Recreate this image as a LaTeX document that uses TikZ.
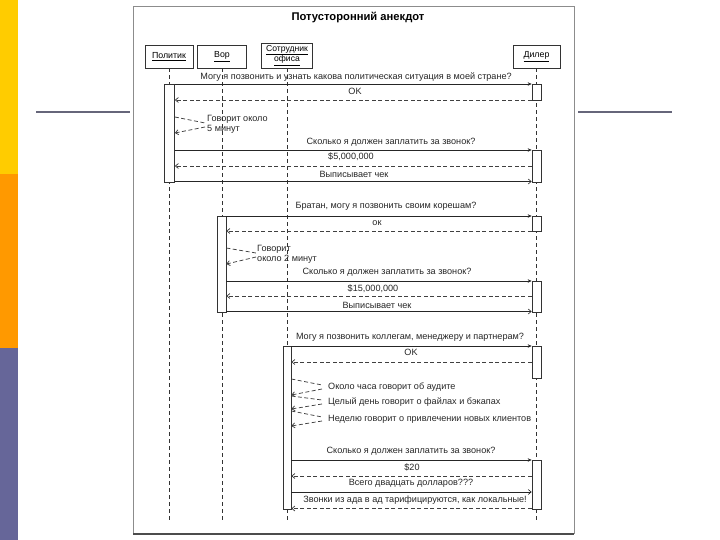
\documentclass[tikz,border=0pt]{standalone}
\usepackage{fontspec}
\setmainfont{Liberation Sans}
\usetikzlibrary{arrows.meta}
\definecolor{barY}{HTML}{FFCC00}
\definecolor{barO}{HTML}{FF9900}
\definecolor{barP}{HTML}{666699}
\definecolor{rule}{HTML}{66667A}
\begin{document}
\begin{tikzpicture}[x=1pt,y=-1pt,
  actor/.style={draw=black!80, fill=white, inner sep=1pt, align=center, font=\fontsize{8.8}{10}\selectfont},
  act/.style={draw=black!80, fill=white, minimum width=9, inner sep=0pt, line width=0.7pt},
  life/.style={draw=black!80, dash pattern=on 4pt off 3pt, line width=0.8pt},
  call/.style={draw=black!85, line width=0.6pt, -{Stealth[length=4pt,width=3.5pt]}},
  callo/.style={draw=black!85, line width=0.6pt, -{Straight Barb[length=3pt,width=5pt]}},
  ret/.style={draw=black!75, dash pattern=on 4pt off 2.5pt, line width=0.75pt, -{Straight Barb[length=3pt,width=5pt]}},
  selfout/.style={draw=black!75, dash pattern=on 4pt off 2.5pt, line width=0.75pt},
  lbl/.style={font=\fontsize{9.1}{10}\selectfont, inner sep=0pt, text=black!85},
]
\useasboundingbox (0,0) rectangle (720,540);
% slide decoration
\fill[barY] (0,0) rectangle (18,174);
\fill[barO] (0,174) rectangle (18,348);
\fill[barP] (0,348) rectangle (18,540);
\draw[rule, line width=1.5pt] (36,112) -- (130,112);
\draw[rule, line width=1.5pt] (578,112) -- (672,112);
% picture frame
\draw[black!45, line width=0.8pt] (133,534) -- (133,6) -- (574,6) -- (574,534);
\draw[black!70, line width=1.2pt] (133,534) -- (574,534);
% title
\node[font=\bfseries\fontsize{11.2}{13}\selectfont] (title) at (358,17) {Потусторонний анекдот};
% actors
\node[actor, minimum width=48, minimum height=23] (pol) at (169,56.5) {\underline{Политик}};
\node[actor, minimum width=49, minimum height=23] (vor) at (222,56.5) {\underline{Вор}};
\node[actor, minimum width=51, minimum height=25, inner sep=0pt, font=\fontsize{8.6}{9}\selectfont] (sot) at (287,55.5) {\underline{Сотрудник}\\[-0.5pt]\underline{офиса}};
\node[actor, minimum width=47, minimum height=23] (dil) at (536.5,56.5) {\underline{Дилер}};
% lifelines
\coordinate (polEnd) at (169,522);
\coordinate (vorEnd) at (222,522);
\coordinate (sotEnd) at (287,522);
\coordinate (dilEnd) at (536.5,522);
\draw[life] (pol.south) -- (polEnd);
\draw[life] (vor.south) -- (vorEnd);
\draw[life] (sot.south) -- (sotEnd);
\draw[life] (dil.south) -- (dilEnd);
% activations
\node[act, minimum height=98, anchor=north, minimum width=10] (aP) at (169.5,84) {};
\node[act, minimum height=16, anchor=north] (aD1) at (536.5,84) {};
\node[act, minimum height=32, anchor=north] (aD2) at (536.5,150) {};
\node[act, minimum height=96, anchor=north] (aV) at (221.5,216) {};
\node[act, minimum height=15, anchor=north] (aD3) at (536.5,216) {};
\node[act, minimum height=31, anchor=north] (aD4) at (536.5,281) {};
\node[act, minimum height=163, anchor=north, minimum width=8] (aS) at (287,346) {};
\node[act, minimum height=32, anchor=north] (aD5) at (536.5,346) {};
\node[act, minimum height=49, anchor=north] (aD6) at (536.5,460) {};
% ---- section 1
\draw[call] (aP.east |- 0,84) -- (aD1.west |- 0,84);
\node[lbl] (m1) at (356,77) {Могу я позвонить и узнать какова политическая ситуация в моей стране?};
\draw[ret] (aD1.west |- 0,100) -- (aP.east |- 0,100);
\node[lbl] (m2) at (355,91) {OK};
\coordinate (s1a) at (205,123);
\coordinate (s1b) at (205,127);
\draw[selfout] (aP.east |- 0,117) -- (s1a);
\draw[ret] (s1b) -- (aP.east |- 0,133);
\node[lbl, anchor=west, align=left] (m3) at (207,124) {Говорит около\\5 минут};
\draw[call] (aP.east |- 0,150) -- (aD2.west |- 0,150);
\node[lbl] (m4) at (391,142) {Сколько я должен заплатить за звонок?};
\draw[ret] (aD2.west |- 0,166) -- (aP.east |- 0,166);
\node[lbl] (m5) at (351,157) {\$5,000,000};
\draw[callo] (aP.east |- 0,181.5) -- (aD2.west |- 0,181.5);
\node[lbl] (m6) at (354,174) {Выписывает чек};
% ---- section 2
\draw[call] (aV.east |- 0,216) -- (aD3.west |- 0,216);
\node[lbl] (m7) at (386,206) {Братан, могу я позвонить своим корешам?};
\draw[ret] (aD3.west |- 0,231) -- (aV.east |- 0,231);
\node[lbl] (m8) at (377,223) {ок};
\coordinate (s2a) at (256,253);
\coordinate (s2b) at (256,257);
\draw[selfout] (aV.east |- 0,248) -- (s2a);
\draw[ret] (s2b) -- (aV.east |- 0,264);
\node[lbl, anchor=west, align=left] (m9) at (257,254.5) {Говорит\\около 2 минут};
\draw[call] (aV.east |- 0,281) -- (aD4.west |- 0,281);
\node[lbl] (m10) at (387,272) {Сколько я должен заплатить за звонок?};
\draw[ret] (aD4.west |- 0,296) -- (aV.east |- 0,296);
\node[lbl] (m11) at (373,289) {\$15,000,000};
\draw[callo] (aV.east |- 0,311.5) -- (aD4.west |- 0,311.5);
\node[lbl] (m12) at (377,305) {Выписывает чек};
% ---- section 3
\draw[call] (aS.east |- 0,346) -- (aD5.west |- 0,346);
\node[lbl] (m13) at (410,337) {Могу я позвонить коллегам, менеджеру и партнерам?};
\draw[ret] (aD5.west |- 0,362) -- (aS.east |- 0,362);
\node[lbl] (m14) at (411,352) {OK};
\coordinate (s3a) at (322,385);
\coordinate (s3b) at (322,389);
\draw[selfout] (aS.east |- 0,379) -- (s3a);
\draw[ret] (s3b) -- (aS.east |- 0,395);
\node[lbl, anchor=west] (m15) at (328,387) {Около часа говорит об аудите};
\coordinate (s4a) at (322,400);
\coordinate (s4b) at (322,404);
\draw[selfout] (aS.east |- 0,396) -- (s4a);
\draw[ret] (s4b) -- (aS.east |- 0,409);
\node[lbl, anchor=west] (m16) at (328,402) {Целый день говорит о файлах и бэкапах};
\coordinate (s5a) at (322,417);
\coordinate (s5b) at (322,421);
\draw[selfout] (aS.east |- 0,411) -- (s5a);
\draw[ret] (s5b) -- (aS.east |- 0,426);
\node[lbl, anchor=west] (m17) at (328,419) {Неделю говорит о привлечении новых клиентов};
\draw[call] (aS.east |- 0,460) -- (aD6.west |- 0,460);
\node[lbl] (m18) at (411,451) {Сколько я должен заплатить за звонок?};
\draw[ret] (aD6.west |- 0,476) -- (aS.east |- 0,476);
\node[lbl] (m19) at (412,467) {\$20};
\draw[callo] (aS.east |- 0,492) -- (aD6.west |- 0,492);
\node[lbl] (m20) at (411,483) {Всего двадцать долларов???};
\draw[ret] (aD6.west |- 0,508.5) -- (aS.east |- 0,508.5);
\node[lbl] (m21) at (415,500) {Звонки из ада в ад тарифицируются, как локальные!};
\end{tikzpicture}
\end{document}
